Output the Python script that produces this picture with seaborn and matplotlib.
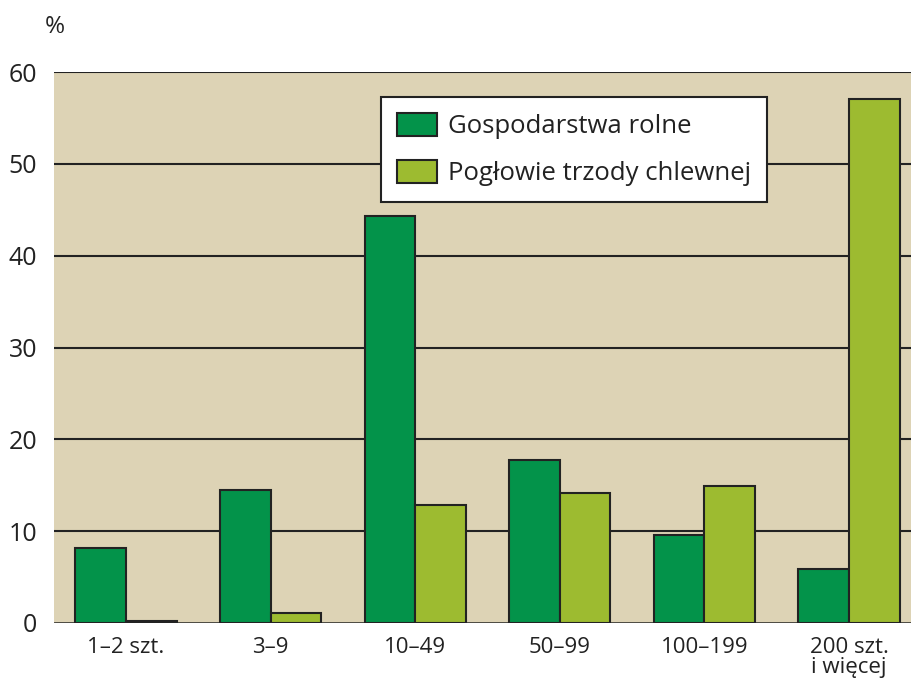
import matplotlib
matplotlib.use("Agg")
import matplotlib.pyplot as plt
import seaborn as sns
import pandas as pd

categories = ["1–2 szt.", "3–9", "10–49", "50–99", "100–199", "200 szt.\ni więcej"]
gospodarstwa = [8.2, 14.5, 44.3, 17.7, 9.6, 5.9]
poglowie = [0.2, 1.1, 12.8, 14.2, 14.9, 57.1]
series = ["Gospodarstwa rolne", "Pogłowie trzody chlewnej"]
colors = ["#03934A", "#9DBB30"]

df = pd.DataFrame({
    "kat": categories * 2,
    "val": gospodarstwa + poglowie,
    "seria": [series[0]] * len(categories) + [series[1]] * len(categories),
})

sns.set_style("white")
plt.rcParams["font.family"] = ["Open Sans", "DejaVu Sans"]
txt = "#222222"

fig = plt.figure(figsize=(9.11, 6.87), dpi=100)
ax = fig.add_axes([54 / 911, 64 / 687, 1 - 54 / 911, (623 - 72) / 687])
ax.set_facecolor("#DDD3B5")

sns.barplot(data=df, x="kat", y="val", hue="seria", order=categories,
            hue_order=series, palette=colors, width=0.7, gap=0,
            edgecolor="#222222", linewidth=1.5, saturation=1, ax=ax, zorder=3)

ax.set_ylim(0, 60)
ax.set_xlim(-0.498, 5.429)
ax.set_yticks(range(0, 61, 10))
for y in range(10, 61, 10):
    ax.axhline(y, color="#222222", lw=1.5, zorder=1)
ax.axhline(0, color="#222222", lw=1.8, zorder=4)
for s in ax.spines.values():
    s.set_visible(False)
ax.set_xlabel("")
ax.set_ylabel("")
ax.tick_params(axis="y", length=0, pad=12, labelsize=18, labelcolor=txt)
ax.tick_params(axis="x", length=0, pad=10, labelsize=16, labelcolor=txt)
for lab in ax.get_xticklabels():
    lab.set_linespacing(0.95)

fig.text(55 / 911, 1 - 27 / 687, "%", fontsize=17.5, color=txt, ha="center", va="center")

leg = ax.legend(loc="upper left", bbox_to_anchor=((381 - 54) / 857, (623 - 97) / 551),
                borderaxespad=0, frameon=True, fancybox=False, fontsize=18.5,
                handlelength=1.56, handleheight=1.0, handletextpad=0.43,
                borderpad=0.62, labelspacing=0.8, labelcolor=txt)
leg.get_frame().set_edgecolor("#222222")
leg.get_frame().set_linewidth(1.5)
leg.get_frame().set_facecolor("white")
leg.get_frame().set_alpha(1)
leg.set_zorder(5)

fig.savefig("out.png", dpi=100)
